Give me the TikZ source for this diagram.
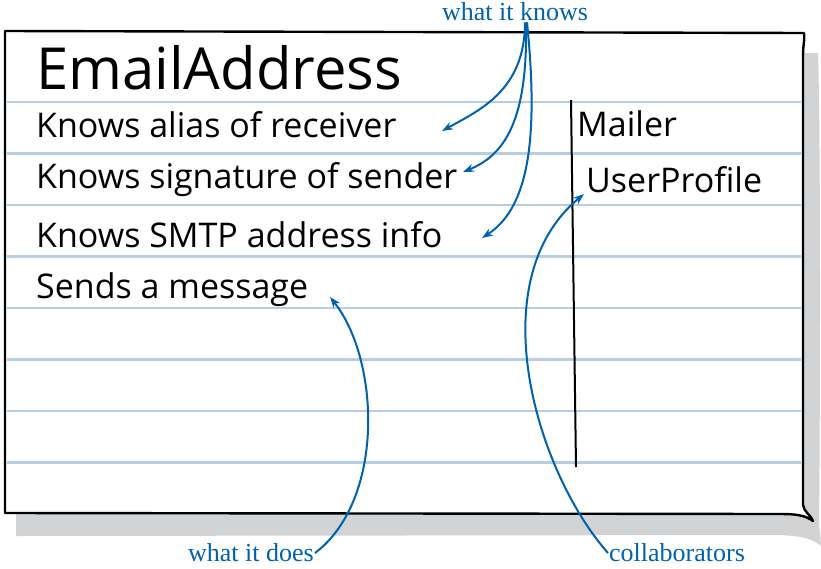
\documentclass[tikz,border=0pt]{standalone}
\usepackage{fontspec}
\usetikzlibrary{arrows.meta}
\setmainfont{Open Sans}
\newfontfamily\notefont{Liberation Serif}
\definecolor{noteblue}{RGB}{0,98,170}
\definecolor{ruleblue}{RGB}{182,205,228}
\definecolor{shadowgray}{RGB}{210,211,213}
\begin{document}
\begin{tikzpicture}[x=1pt, y={(0pt,-1pt)},
  rule/.style={ruleblue, line width=2.4pt},
  card/.style={line width=2.4pt, fill=white, line join=round},
  entry/.style={anchor=west, inner sep=0pt, font=\fontsize{34}{37}\selectfont},
  title/.style={anchor=west, inner sep=0pt, font=\fontsize{58}{62}\selectfont},
  note/.style={noteblue, font=\notefont\fontsize{26}{29}\selectfont, inner sep=1pt},
  arr/.style={-{Stealth[length=11pt,width=8pt]}, noteblue, line width=2pt}
]
\useasboundingbox (0,0) rectangle (821,568);
\fill[shadowgray] (16,54) -- (818,53) .. controls (821,150) and (820,450) .. (819,520)
  .. controls (819,530) and (821,538) .. (821,546) .. controls (812,538) and (800,536) .. (780,535)
  -- (16,536) -- cycle;
\draw[card] (5,31) -- (804,33) .. controls (805,40) and (803,45) .. (803,55)
  -- (803,505) .. controls (804,512) and (810,514) .. (813,521)
  .. controls (805,515) and (795,514) .. (780,514) -- (5,513) -- cycle;
\foreach \y in {102,153.5,205,256.5,308,359.5,411,462.5}
  \draw[rule] (7,\y) -- (801,\y);
\draw[line width=2pt] (571,100) -- (576,467);
\node[title] (cls) at (36,68) {EmailAddress};
\node[entry] (r1) at (36,125) {Knows alias of receiver};
\node[entry] (r2) at (36,180) {Knows signature of sender};
\node[entry] (r3) at (36,235) {Knows SMTP address info};
\node[entry] (r4) at (36,290) {Sends a message};
\node[entry] (c1) at (577,124) {Mailer};
\node[entry] (c2) at (586,180) {UserProfile};
\node[note] (knows) at (515,12) {what it knows};
\node[note] (does) at (251,553) {what it does};
\node[note] (collab) at (677,553) {collaborators};
\coordinate (k1) at (442,131);
\coordinate (k2) at (463,172);
\coordinate (k3) at (482,238);
\coordinate (d1) at (330,297);
\coordinate (cc) at (584,194);
\draw[arr] (knows.south -| 525,0) .. controls (525,90) and (480,110) .. (k1);
\draw[arr] (knows.south -| 526,0) .. controls (528,120) and (505,155) .. (k2);
\draw[arr] (knows.south -| 527,0) .. controls (540,150) and (525,210) .. (k3);
\draw[arr] (does.east) .. controls (385,500) and (380,360) .. (d1);
\draw[arr] (collab.west) .. controls (535,470) and (480,280) .. (cc);
\end{tikzpicture}
\end{document}
